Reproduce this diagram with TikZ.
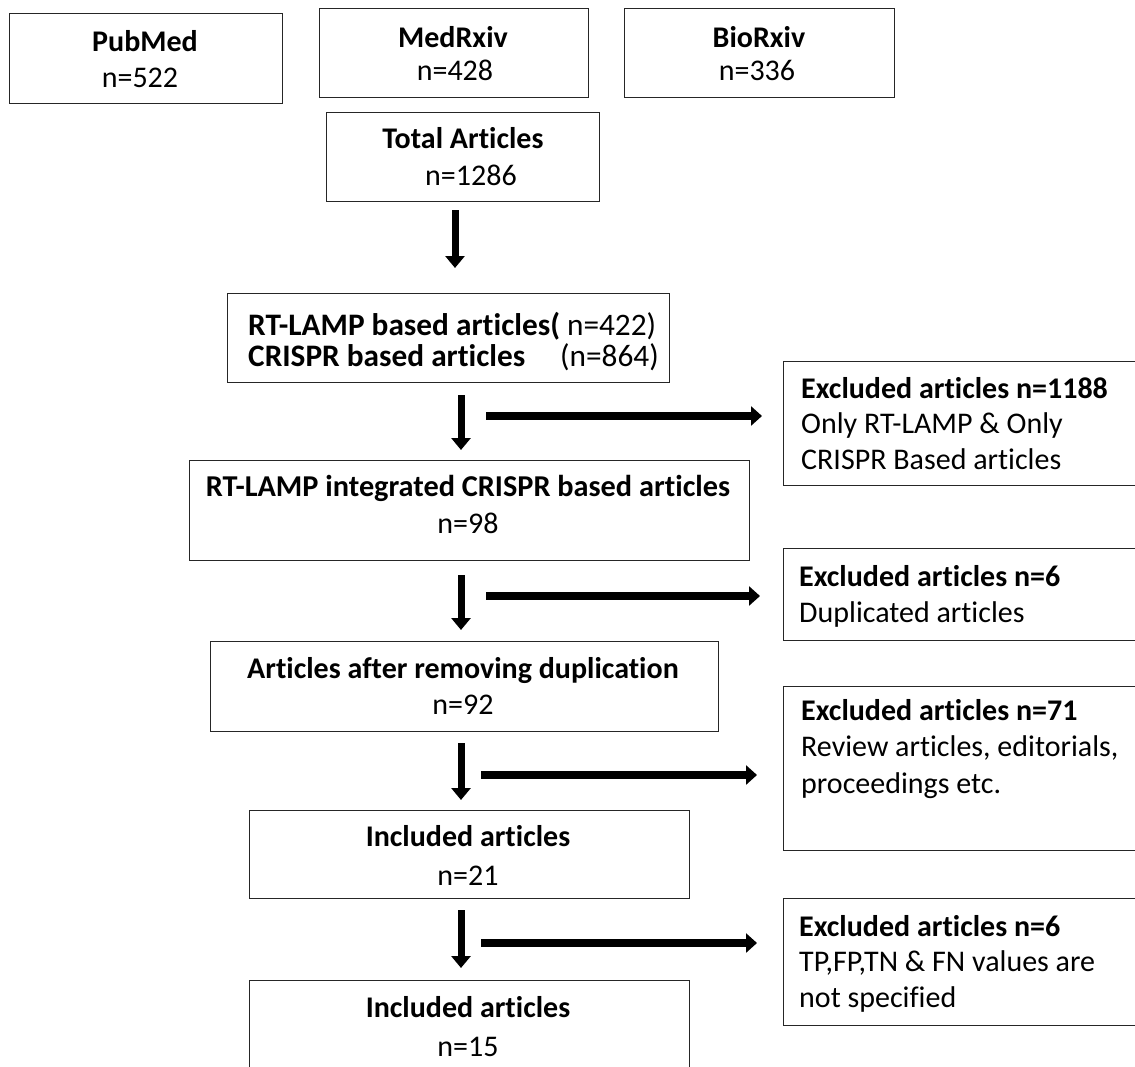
\documentclass[tikz,border=0pt]{standalone}
\usepackage{fontspec}
\setmainfont{Carlito}[Ligatures=NoCommon]
\usetikzlibrary{arrows.meta}
\begin{document}
\begin{tikzpicture}[x=1pt,y=-1pt,
  box/.style={draw=black!85, line width=1.3pt, inner sep=0pt, anchor=north west},
  txt/.style={inner sep=0pt, font=\fontsize{30}{36}\selectfont, anchor=base},
  txtl/.style={txt, anchor=base west},
  big/.style={font=\fontsize{31.3}{37}\selectfont},
  varrow/.style={line width=7pt, -{Triangle[width=19pt,length=12pt]}},
  harrow/.style={line width=8.5pt, -{Triangle[width=19pt,length=11pt]}},
]
\useasboundingbox (0,0) rectangle (1135,1066);
\clip (0,0) rectangle (1135,1066);

% boxes
\node[box, minimum width=273pt, minimum height=90pt] (pub) at (9,13) {};
\node[box, minimum width=269pt, minimum height=89pt] (med) at (319,8) {};
\node[box, minimum width=270pt, minimum height=89pt] (bio) at (624,8) {};
\node[box, minimum width=273pt, minimum height=89pt] (tot) at (326,112) {};
\node[box, minimum width=442pt, minimum height=89pt] (rtb) at (227,293) {};
\node[box, minimum width=362pt, minimum height=124pt] (ex1) at (783,361) {};
\node[box, minimum width=560pt, minimum height=100pt] (rti) at (189,460) {};
\node[box, minimum width=362pt, minimum height=92pt] (ex2) at (783,548) {};
\node[box, minimum width=508pt, minimum height=90pt] (dup) at (210,641) {};
\node[box, minimum width=362pt, minimum height=164pt] (ex3) at (783,686) {};
\node[box, minimum width=440pt, minimum height=88pt] (inc1) at (249,810) {};
\node[box, minimum width=362pt, minimum height=127pt] (ex4) at (783,898) {};
\node[box, minimum width=440pt, minimum height=120pt] (inc2) at (249,980) {};

% texts
\node[txt] (pubT) at (145,51) {\textbf{PubMed}};
\node[txt] (pubN) at (140,87) {n=522};
\node[txt] (medT) at (453,47) {\textbf{MedRxiv}};
\node[txt] (medN) at (455,80) {n=428};
\node[txt] (bioT) at (759,47) {\textbf{BioRxiv}};
\node[txt] (bioN) at (757,80) {n=336};
\node[txt] (totT) at (463,148) {\textbf{Total Articles}};
\node[txt] (totN) at (471,185) {n=1286};
\node[txtl, big] (rtbA) at (248,335) {\textbf{RT-LAMP based articles(} n=422)};
\node[txtl, big] (rtbB) at (248,366) {\textbf{CRISPR based articles}};
\node[txt, big, anchor=base east] (rtbC) at (659,366) {(n=864)};
\node[txtl] (ex1A) at (801,398) {\textbf{Excluded articles n=1188}};
\node[txtl] (ex1B) at (801,433) {Only RT-LAMP \& Only};
\node[txtl] (ex1C) at (801,469) {CRISPR Based articles};
\node[txt, font=\fontsize{30.3}{36}\selectfont] (rtiT) at (468,496) {\textbf{RT-LAMP integrated CRISPR based articles}};
\node[txt] (rtiN) at (468,533) {n=98};
\node[txtl] (ex2A) at (799,586) {\textbf{Excluded articles n=6}};
\node[txtl] (ex2B) at (799,622) {Duplicated articles};
\node[txt] (dupT) at (463,678) {\textbf{Articles after removing duplication}};
\node[txt] (dupN) at (463,714) {n=92};
\node[txtl] (ex3A) at (801,720) {\textbf{Excluded articles n=71}};
\node[txtl] (ex3B) at (801,756) {Review articles, editorials,};
\node[txtl] (ex3C) at (801,793) {proceedings etc.};
\node[txt] (inc1T) at (468,846) {\textbf{Included articles}};
\node[txt] (inc1N) at (468,885) {n=21};
\node[txtl] (ex4A) at (799,936) {\textbf{Excluded articles n=6}};
\node[txtl] (ex4B) at (799,971) {TP,FP,TN \& FN values are};
\node[txtl] (ex4C) at (799,1007) {not specified};
\node[txt] (inc2T) at (468,1017) {\textbf{Included articles}};
\node[txt] (inc2N) at (468,1056) {n=15};

% arrow endpoints
\coordinate (v1s) at (455,210); \coordinate (v1e) at (455,268);
\coordinate (v2s) at (461,395); \coordinate (v2e) at (461,450);
\coordinate (v3s) at (461,575); \coordinate (v3e) at (461,630);
\coordinate (v4s) at (461,743); \coordinate (v4e) at (461,800);
\coordinate (v5s) at (461,910); \coordinate (v5e) at (461,968);
\coordinate (h1s) at (486,416); \coordinate (h1e) at (762,416);
\coordinate (h2s) at (486,596); \coordinate (h2e) at (760,596);
\coordinate (h3s) at (481,775); \coordinate (h3e) at (757,775);
\coordinate (h4s) at (481,943); \coordinate (h4e) at (757,943);

\draw[varrow] (v1s) -- (v1e);
\draw[varrow] (v2s) -- (v2e);
\draw[varrow] (v3s) -- (v3e);
\draw[varrow] (v4s) -- (v4e);
\draw[varrow] (v5s) -- (v5e);
\draw[harrow] (h1s) -- (h1e);
\draw[harrow] (h2s) -- (h2e);
\draw[harrow] (h3s) -- (h3e);
\draw[harrow] (h4s) -- (h4e);
\end{tikzpicture}
\end{document}
